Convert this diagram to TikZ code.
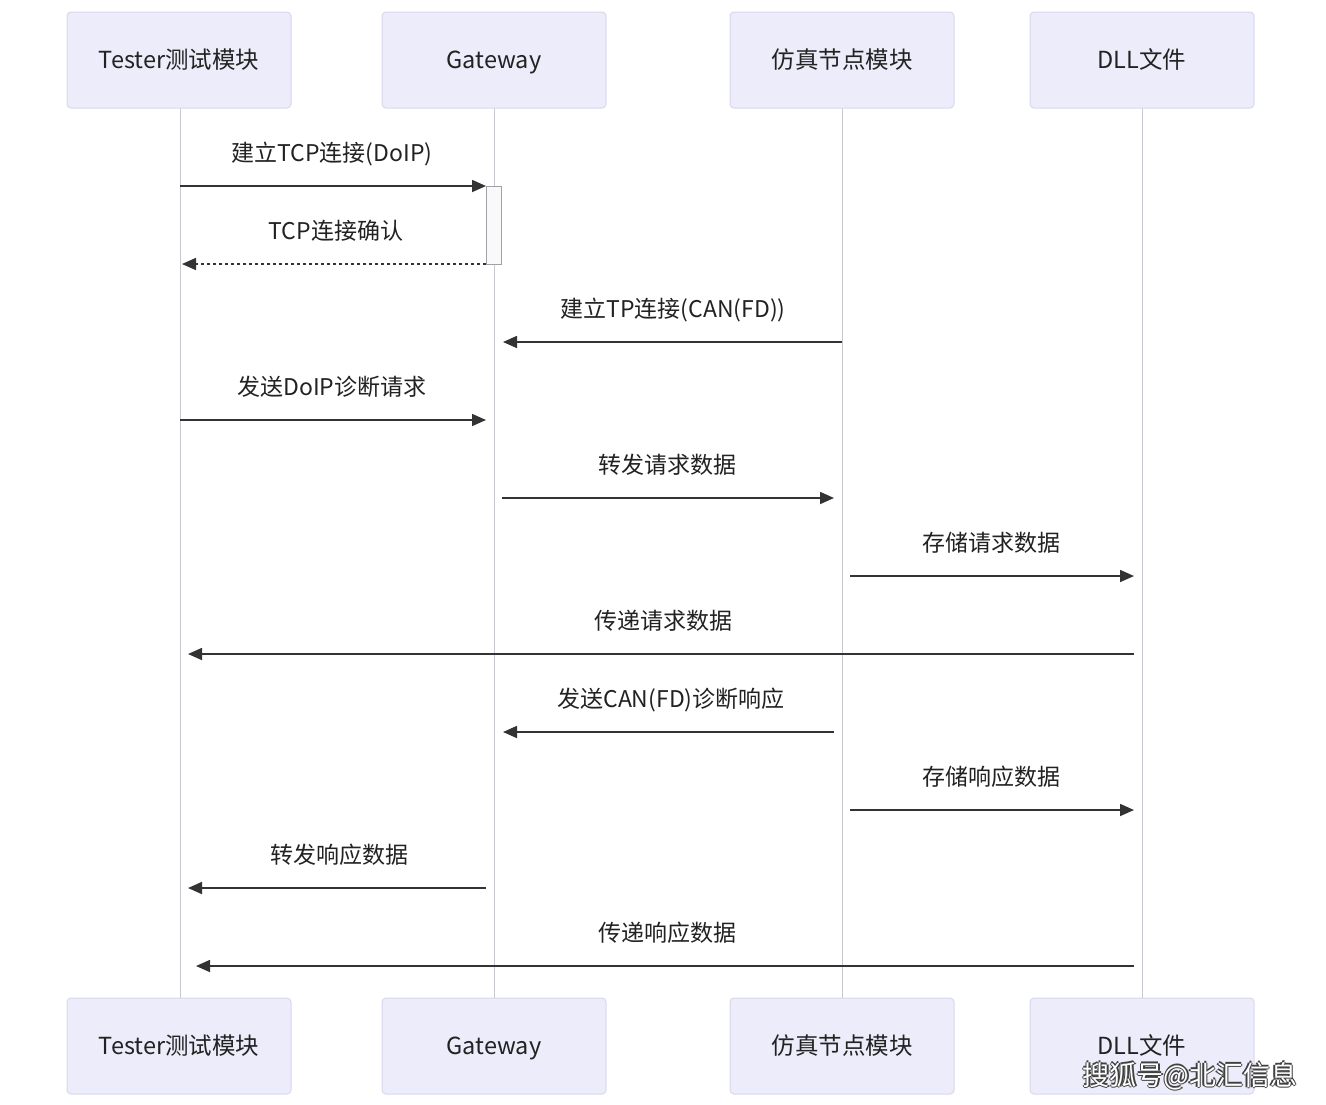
\documentclass[tikz,border=0pt]{standalone}
\usepackage{fontspec}
\setmainfont{Noto Sans CJK SC}
\usetikzlibrary{arrows.meta}
\definecolor{boxfill}{HTML}{ECECFA}
\definecolor{boxline}{HTML}{D8D8EC}
\definecolor{lifeline}{HTML}{C8C8D0}
\definecolor{txt}{HTML}{222222}
\definecolor{arr}{HTML}{333333}
\tikzset{
  actor/.style={draw=boxline, fill=boxfill, rounded corners=4pt, minimum width=224pt, minimum height=96pt, inner sep=0pt, font=\fontsize{23.5}{27}\selectfont, text=txt, line width=1pt, text height=21pt, text depth=4pt},
  life/.style={draw=lifeline, line width=1pt},
  msg/.style={draw=arr, line width=1.6pt, -{Triangle[length=14pt,width=12pt]}},
  reply/.style={msg, dash pattern=on 3pt off 3pt},
  lbl/.style={font=\fontsize{23}{27}\selectfont, text=txt, inner sep=0pt, text height=21pt, text depth=4pt},
  act/.style={draw=lifeline!80!black, fill=white!95!gray, line width=1pt},
  wmk/.style={font=\fontsize{27}{30}\selectfont, inner sep=0pt}
}
\begin{document}
\begin{tikzpicture}[x=1pt,y=-1pt]
\useasboundingbox (0,0) rectangle (1326,1104);
\fill[white] (0,0) rectangle (1326,1104);
% lifelines
\foreach \x/\n in {180/a,494/b,842/c,1142/d}{
  \coordinate (top\n) at (\x,108);
  \coordinate (bot\n) at (\x,998);
  \draw[life] (top\n) -- (bot\n);
}
% activation
\draw[act] (486,186) rectangle (501,264);
% actors
\node[actor] (ta) at (179,60) {Tester测试模块};
\node[actor] (tb) at (494,60) {Gateway};
\node[actor] (tc) at (842,60) {仿真节点模块};
\node[actor] (td) at (1142,60) {DLL文件};
\node[actor] (ba) at (179,1046) {Tester测试模块};
\node[actor] (bb) at (494,1046) {Gateway};
\node[actor] (bc) at (842,1046) {仿真节点模块};
\node[actor] (bd) at (1142,1046) {DLL文件};
% message endpoints
\coordinate (m1s) at (180,186); \coordinate (m1e) at (486,186);
\coordinate (m2s) at (486,264); \coordinate (m2e) at (182,264);
\coordinate (m3s) at (842,342); \coordinate (m3e) at (503,342);
\coordinate (m4s) at (180,420); \coordinate (m4e) at (486,420);
\coordinate (m5s) at (502,498); \coordinate (m5e) at (834,498);
\coordinate (m6s) at (850,576); \coordinate (m6e) at (1134,576);
\coordinate (m7s) at (1134,654); \coordinate (m7e) at (188,654);
\coordinate (m8s) at (834,732); \coordinate (m8e) at (503,732);
\coordinate (m9s) at (850,810); \coordinate (m9e) at (1134,810);
\coordinate (m10s) at (486,888); \coordinate (m10e) at (188,888);
\coordinate (m11s) at (1134,966); \coordinate (m11e) at (196,966);
\draw[msg] (m1s) -- (m1e);
\draw[reply] (m2s) -- (m2e);
\draw[msg] (m3s) -- (m3e);
\draw[msg] (m4s) -- (m4e);
\draw[msg] (m5s) -- (m5e);
\draw[msg] (m6s) -- (m6e);
\draw[msg] (m7s) -- (m7e);
\draw[msg] (m8s) -- (m8e);
\draw[msg] (m9s) -- (m9e);
\draw[msg] (m10s) -- (m10e);
\draw[msg] (m11s) -- (m11e);
% labels
\node[lbl] (l1) at (332,153) {建立TCP连接(DoIP)};
\node[lbl] (l2) at (336,231) {TCP连接确认};
\node[lbl] (l3) at (673,309) {建立TP连接(CAN(FD))};
\node[lbl] (l4) at (332,387) {发送DoIP诊断请求};
\node[lbl] (l5) at (667,465) {转发请求数据};
\node[lbl] (l6) at (991,543) {存储请求数据};
\node[lbl] (l7) at (663,621) {传递请求数据};
\node[lbl] (l8) at (671,699) {发送CAN(FD)诊断响应};
\node[lbl] (l9) at (991,777) {存储响应数据};
\node[lbl] (l10) at (339,855) {转发响应数据};
\node[lbl] (l11) at (667,933) {传递响应数据};
% overlay text (white with dark outline)
\foreach \dx/\dy in {-1.4/0,1.4/0,0/-1.4,0/1.4}{
  \node[wmk, text=black!75] at (1190+\dx,1076+\dy) {搜狐号@北汇信息};
}
\node[wmk, text=white] (wm) at (1190,1076) {搜狐号@北汇信息};
\end{tikzpicture}
\end{document}
